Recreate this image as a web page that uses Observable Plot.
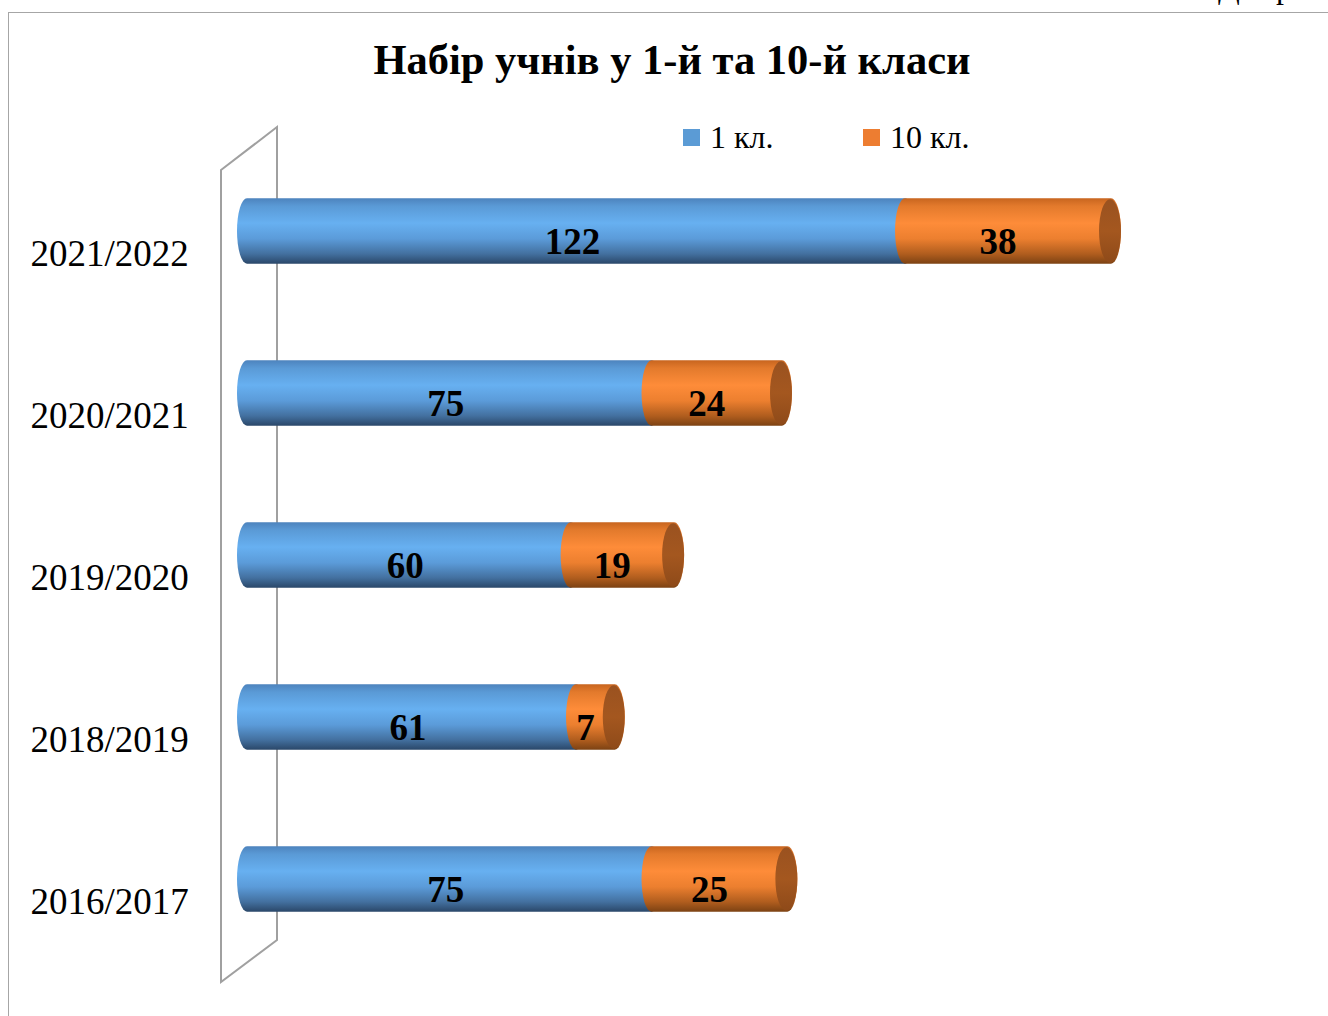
<!DOCTYPE html>
<html>
<head>
<meta charset="utf-8">
<script src="https://cdn.jsdelivr.net/npm/d3@7"></script>
<script src="https://cdn.jsdelivr.net/npm/@observablehq/plot@0.6"></script>
<style>
  body { margin: 0; background: #fff; }
  #root { position: relative; width: 1328px; height: 1016px; overflow: hidden; font-family: "Liberation Serif", "Times New Roman", serif; }
  #frame { position: absolute; left: 8px; top: 12px; width: 1400px; height: 1100px; border: 1.5px solid #a6a6a6; box-sizing: border-box; }
  #pagetext { position: absolute; left: 1218px; top: -31px; font-size: 32px; white-space: nowrap; color: #000; }
  #title { position: absolute; left: 0; width: 1344px; top: 35px; text-align: center; font-weight: bold; font-size: 42.5px; color: #000; }
  #legend { position: absolute; top: 119px; left: 683px; font-size: 32px; color: #000; }
  .item { position: absolute; top: 0; white-space: nowrap; display: flex; align-items: center; }
  .sw { width: 17px; height: 17px; margin-right: 10px; }
  #chart { position: absolute; left: 0; top: 110px; }
</style>
</head>
<body>
<div id="root">
  <div id="pagetext">Діаграма</div>
  <div id="frame"></div>
  <div id="title">Набір учнів у 1-й та 10-й класи</div>
  <div id="legend"></div>
  <div id="chart"></div>
</div>
<script>
const years = ["2021/2022", "2020/2021", "2019/2020", "2018/2019", "2016/2017"];
const grade1 = [122, 75, 60, 61, 75];
const grade10 = [38, 24, 19, 7, 25];
const seriesNames = ["1 кл.", "10 кл."];
const seriesColors = ["#5b9bd5", "#ed7d31"];

const rows = years.map((y, i) => ({year: y, g1: grade1[i], g10: grade10[i], total: grade1[i] + grade10[i]}));

// legend
const legend = document.getElementById("legend");
const legendX = [0, 180];
seriesNames.forEach((name, i) => {
  const it = document.createElement("div");
  it.className = "item";
  it.style.left = legendX[i] + "px";
  it.innerHTML = `<div class="sw" style="background:${seriesColors[i]}"></div><span>${name}</span>`;
  legend.appendChild(it);
});

const W = 1328, H = 906;
const barH = 66, step = 162.5;
const inset = (step - barH) / 2;
const capR = 11;

const plot = Plot.plot({
  width: W,
  height: H,
  marginLeft: 0, marginRight: 0, marginTop: 0, marginBottom: 0,
  x: {domain: [0, 160], range: [247, 1110], axis: null},
  y: {domain: years, range: [120 - step / 2, 770 + step / 2], padding: 0, axis: null},
  style: {fontFamily: "Liberation Serif, Times New Roman, serif", background: "transparent"},
  marks: [
    // 1st grade cylinder segment
    Plot.barX(rows, {x1: 0, x2: "g1", y: "year", fill: "url(#gBlue)", insetTop: inset, insetBottom: inset,
      insetLeft: -10, insetRight: -10, rx: 10, ry: barH / 2}),
    // 10th grade cylinder segment
    Plot.barX(rows, {x1: "g1", x2: "total", y: "year", fill: "url(#gOrange)", insetTop: inset, insetBottom: inset,
      insetLeft: -10, insetRight: -capR, rx: 10, ry: barH / 2}),
    // end cap
    Plot.barX(rows, {x1: "total", x2: "total", y: "year", fill: "url(#gCap)", insetTop: inset + 1, insetBottom: inset + 1,
      insetLeft: -capR, insetRight: -capR, rx: capR, ry: barH / 2 - 1}),
    // value labels
    Plot.text(rows, {x: d => d.g1 / 2, y: "year", text: d => String(d.g1), dx: -4, dy: 11, fontSize: 37, fontWeight: "bold", fill: "#000"}),
    Plot.text(rows, {x: d => d.g1 + d.g10 / 2, y: "year", text: d => String(d.g10), dx: -10, dy: 11, fontSize: 37, fontWeight: "bold", fill: "#000"}),
    // category labels
    Plot.text(years, {y: d => d, text: d => d, frameAnchor: "left", textAnchor: "start", dx: 30, dy: 23, fontSize: 37, fill: "#000"})
  ]
});

const svg = d3.select(plot);
const defs = svg.insert("defs", ":first-child");
function grad(id, stops) {
  const g = defs.append("linearGradient").attr("id", id).attr("x1", 0).attr("y1", 0).attr("x2", 0).attr("y2", 1);
  stops.forEach(([o, c]) => g.append("stop").attr("offset", o).attr("stop-color", c));
}
grad("gBlue", [[0, "#4d83bd"], [0.12, "#5a9ad6"], [0.38, "#67b0f1"], [0.62, "#5b9bd9"], [0.85, "#43709f"], [1, "#2a4769"]]);
grad("gOrange", [[0, "#c8651f"], [0.12, "#e37a2c"], [0.38, "#fe8c39"], [0.62, "#ec7f2f"], [0.85, "#b05d1e"], [1, "#7c4213"]]);
grad("gCap", [[0, "#9a5220"], [0.5, "#a4571f"], [1, "#8e4a19"]]);

// back wall of the 3D plot area (decoration)
svg.insert("path", "g")
  .attr("d", "M221,60 L277,17 L277,830 L221,872 Z")
  .attr("fill", "none").attr("stroke", "#a0a0a0").attr("stroke-width", 2);

document.getElementById("chart").appendChild(plot);
</script>
</body>
</html>
